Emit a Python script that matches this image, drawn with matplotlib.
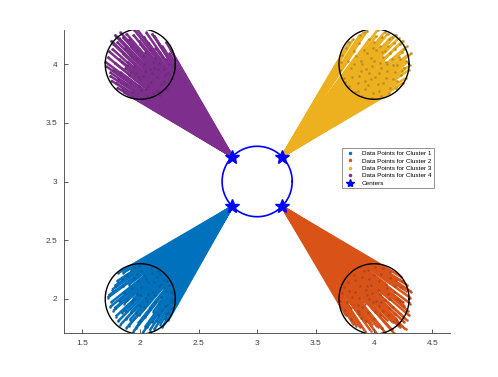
import matplotlib

matplotlib.use("Agg")
import numpy as np
from matplotlib import pyplot as plt

plt.rcParams["font.family"] = ["Liberation Sans", "DejaVu Sans"]

# cluster data points (x, y)
c1_x = [1.74, 1.76, 1.79, 1.80, 1.82, 1.83, 1.85, 1.86, 1.87, 1.88, 1.90, 1.91, 1.92, 1.93,
        1.94, 1.95, 1.96, 1.97, 1.98, 1.99, 2.00, 2.01, 2.02, 2.03, 2.04, 2.05, 2.06, 2.07,
        2.08, 2.09, 2.10, 2.11, 2.12, 2.13, 2.14, 2.15, 2.16, 2.17, 2.18, 2.19, 2.20, 2.21,
        2.22, 2.23, 2.24, 2.25, 2.26, 2.27, 2.28, 1.72, 1.77, 1.81, 1.89, 2.00, 2.15,
        1.73, 1.75, 1.78, 1.78, 1.81, 1.84, 1.84, 1.86, 1.89, 1.90, 1.92, 1.93, 1.95, 1.96,
        1.98, 1.99, 2.01, 2.03, 2.04, 2.05, 2.07, 2.08, 2.10, 2.11, 2.12, 2.14, 2.16, 2.17,
        2.19, 2.20, 2.22, 2.23, 2.24, 2.26, 2.27, 2.29, 1.94, 2.06, 2.00, 1.97, 1.85, 2.13,
        2.18, 1.88, 2.21]
c1_y = [1.93, 2.08, 1.85, 2.15, 1.98, 1.78, 2.22, 2.05, 1.90, 1.75, 2.12, 1.82, 2.25, 1.97,
        1.72, 2.18, 1.88, 2.04, 1.79, 2.28, 1.94, 2.10, 1.71, 2.20, 1.85, 2.01, 1.76, 2.14,
        1.92, 2.26, 1.80, 2.06, 1.74, 1.97, 2.19, 1.86, 2.11, 1.78, 2.02, 1.91, 2.16, 1.83,
        2.07, 1.95, 1.88, 2.12, 2.00, 1.92, 2.05, 2.01, 1.90, 2.22, 1.99, 2.03, 2.24,
        2.03, 1.97, 1.92, 2.11, 1.81, 1.88, 2.17, 1.96, 2.20, 1.77, 1.89, 2.09, 2.27, 1.75,
        2.15, 1.86, 2.24, 1.93, 1.76, 2.17, 2.04, 1.73, 2.22, 1.89, 2.14, 1.81, 1.96, 2.21,
        1.76, 2.09, 1.87, 2.15, 1.82, 2.06, 1.97, 1.99, 2.00, 1.98, 1.81, 2.21, 2.11, 2.03,
        2.13, 1.83, 1.94]

c2_x = [3.73, 3.75, 3.78, 3.80, 3.81, 3.83, 3.85, 3.86, 3.88, 3.89, 3.91, 3.92, 3.94, 3.95,
        3.96, 3.98, 3.99, 4.01, 4.02, 4.03, 4.05, 4.06, 4.07, 4.09, 4.10, 4.11, 4.13, 4.14,
        4.15, 4.17, 4.18, 4.19, 4.21, 4.22, 4.23, 4.25, 4.26, 4.27, 4.29, 4.31, 3.84, 3.90,
        3.97, 4.04, 4.12, 4.20, 4.16, 4.08, 4.24, 4.28, 3.77, 3.87, 3.93, 4.00, 4.14,
        3.71, 3.74, 3.76, 3.79, 3.80, 3.82, 3.84, 3.87, 3.88, 3.90, 3.92, 3.93, 3.95, 3.97,
        3.98, 4.00, 4.01, 4.03, 4.04, 4.06, 4.08, 4.09, 4.11, 4.12, 4.14, 4.16, 4.17, 4.18,
        4.20, 4.22, 4.23, 4.25, 4.26, 4.28, 4.30, 4.31, 4.27, 4.19, 3.96, 4.05, 4.13, 3.86,
        3.94, 4.02, 4.32]
c2_y = [2.05, 1.91, 2.14, 1.83, 2.02, 2.20, 1.77, 1.95, 2.11, 1.84, 2.24, 1.73, 2.03, 1.88,
        2.17, 1.79, 1.97, 2.27, 1.71, 2.08, 1.86, 2.21, 1.75, 1.99, 2.13, 1.82, 1.92, 2.23,
        1.74, 2.06, 1.87, 2.16, 1.78, 1.98, 2.10, 1.85, 1.94, 2.07, 1.90, 2.01, 2.06, 1.93,
        2.12, 1.94, 2.04, 1.81, 1.80, 1.90, 2.15, 1.82, 1.97, 1.87, 2.08, 1.83, 2.00,
        1.98, 2.10, 1.86, 2.07, 1.92, 1.79, 2.16, 2.01, 1.76, 2.19, 1.96, 1.81, 2.25, 1.73,
        2.05, 2.20, 1.89, 1.76, 2.15, 1.97, 2.26, 1.72, 2.09, 1.86, 2.18, 1.93, 1.71, 2.11,
        2.00, 1.76, 2.19, 1.97, 1.80, 2.12, 1.86, 1.96, 1.74, 1.83, 2.00, 2.04, 2.00, 1.90,
        2.11, 1.98, 2.06]

c3_x = [3.72, 3.74, 3.76, 3.79, 3.80, 3.82, 3.84, 3.85, 3.87, 3.88, 3.90, 3.91, 3.93, 3.94,
        3.95, 3.97, 3.98, 4.00, 4.01, 4.03, 4.04, 4.05, 4.07, 4.08, 4.09, 4.11, 4.12, 4.13,
        4.15, 4.16, 4.17, 4.19, 4.20, 4.21, 4.23, 4.24, 4.25, 4.27, 4.28, 4.30, 4.29, 3.83,
        3.89, 3.96, 4.02, 4.06, 4.14, 4.18, 3.86, 3.99, 4.10, 4.22, 3.92, 4.26, 4.13,
        3.71, 3.73, 3.75, 3.78, 3.79, 3.81, 3.83, 3.86, 3.87, 3.89, 3.91, 3.92, 3.94, 3.96,
        3.97, 3.99, 4.00, 4.02, 4.03, 4.05, 4.06, 4.08, 4.09, 4.10, 4.12, 4.14, 4.15, 4.16,
        4.18, 4.20, 4.21, 4.22, 4.24, 4.26, 4.27, 4.29, 4.31, 4.25, 4.19, 4.32, 3.90, 4.04,
        4.11, 3.98, 4.07]
c3_y = [4.02, 3.88, 4.14, 3.81, 3.97, 4.21, 3.76, 4.07, 3.90, 4.25, 3.73, 4.12, 3.96, 4.28,
        3.82, 4.05, 3.71, 4.19, 3.89, 4.29, 3.77, 4.01, 4.23, 3.84, 4.11, 3.94, 4.26, 3.75,
        4.04, 3.87, 4.18, 3.80, 3.99, 4.22, 3.91, 4.10, 3.84, 4.03, 4.15, 3.95, 4.08, 4.00,
        4.03, 3.92, 4.12, 3.97, 4.09, 3.93, 3.84, 4.14, 4.02, 4.04, 3.86, 3.97, 4.21,
        3.95, 4.08, 3.85, 4.03, 4.19, 3.89, 4.11, 3.77, 4.18, 3.94, 4.27, 3.79, 4.09, 4.21,
        3.87, 3.75, 4.03, 4.24, 3.83, 4.15, 3.73, 4.06, 4.27, 3.88, 4.15, 3.80, 4.23, 3.99,
        4.13, 3.86, 4.06, 4.17, 3.94, 4.13, 3.88, 4.02, 3.99, 4.20, 4.25, 4.09, 4.00, 3.92,
        4.00, 3.98, 4.10]

c4_x = [1.71, 1.73, 1.75, 1.77, 1.78, 1.80, 1.82, 1.83, 1.85, 1.86, 1.88, 1.89, 1.91, 1.92,
        1.94, 1.95, 1.96, 1.98, 1.99, 2.01, 2.02, 2.04, 2.05, 2.06, 2.08, 2.09, 2.11, 2.12,
        2.14, 2.15, 2.16, 2.18, 2.19, 2.21, 2.22, 2.23, 2.25, 2.26, 2.27, 2.29, 1.74, 1.79,
        1.84, 1.90, 1.97, 2.03, 2.10, 2.17, 2.07, 1.87, 2.13, 1.93, 2.00, 2.20, 1.81,
        1.72, 1.74, 1.76, 1.77, 1.79, 1.80, 1.82, 1.84, 1.85, 1.87, 1.88, 1.90, 1.91, 1.93,
        1.94, 1.96, 1.97, 1.99, 2.00, 2.02, 2.03, 2.05, 2.07, 2.08, 2.10, 2.11, 2.13, 2.14,
        2.16, 2.17, 2.19, 2.20, 2.22, 2.24, 2.25, 2.27, 1.70, 1.75, 1.83, 1.78, 1.89, 1.95,
        2.04, 2.12, 1.92]
c4_y = [3.98, 4.11, 3.86, 4.17, 4.01, 3.80, 4.22, 3.93, 4.09, 3.76, 4.26, 3.99, 3.84, 4.15,
        3.72, 4.29, 4.04, 3.89, 4.20, 3.78, 4.07, 3.94, 4.27, 3.73, 4.13, 3.85, 4.02, 4.24,
        3.77, 3.96, 4.17, 3.83, 4.06, 3.91, 4.19, 3.79, 4.00, 4.12, 3.88, 3.97, 3.93, 4.24,
        4.02, 3.91, 4.12, 4.00, 3.92, 4.09, 3.81, 4.14, 4.05, 4.06, 3.87, 3.96, 3.87,
        4.06, 3.90, 4.13, 3.95, 3.84, 4.19, 4.04, 3.79, 4.23, 3.97, 3.83, 4.21, 4.08, 3.76,
        4.25, 3.92, 4.30, 3.81, 4.17, 3.90, 4.23, 3.79, 4.18, 3.96, 4.26, 3.75, 4.14, 3.89,
        4.01, 3.74, 4.15, 3.86, 4.04, 3.92, 4.09, 3.99, 4.02, 4.20, 4.27, 4.25, 4.02, 3.98,
        4.10, 3.97, 3.93]

cluster_x = [c1_x, c2_x, c3_x, c4_x]
cluster_y = [c1_y, c2_y, c3_y, c4_y]
cluster_cx = [2.0, 4.0, 4.0, 2.0]
cluster_cy = [2.0, 2.0, 4.0, 4.0]
cluster_r = 0.3

# centers found
centers_x = [2.788, 3.212, 3.212, 2.788]
centers_y = [2.788, 2.788, 3.212, 3.212]
ring_x, ring_y, ring_r = 3.0, 3.0, 0.3

colors = ["#0072BD", "#D95319", "#EDB120", "#7E2F8E"]
labels = ["Data Points for Cluster %d" % (i + 1) for i in range(4)]

fig = plt.figure(figsize=(4.98, 3.77), dpi=100)
ax = fig.add_axes([64.3 / 498, 44 / 377, 385.7 / 498, 303 / 377])

t = np.linspace(0, 2 * np.pi, 200)
handles = []
for k in range(4):
    xs, ys = cluster_x[k], cluster_y[k]
    for x, y in zip(xs, ys):
        ax.plot([x, centers_x[k]], [y, centers_y[k]], color=colors[k], lw=1.8,
                solid_capstyle="butt", zorder=1)
    dark = tuple(0.7 * c + 0.05 for c in matplotlib.colors.to_rgb(colors[k]))
    ax.plot(xs, ys, ".", color=dark, ms=2.0, alpha=0.7, zorder=2)
    h, = ax.plot([], [], ".", color=colors[k], ms=3, label=labels[k])
    handles.append(h)
    ax.plot(cluster_cx[k] + cluster_r * np.cos(t), cluster_cy[k] + cluster_r * np.sin(t),
            color="black", lw=1.0, zorder=3)

ax.plot(ring_x + ring_r * np.cos(t), ring_y + ring_r * np.sin(t), color="blue", lw=1.2, zorder=3)
ax.plot(centers_x, centers_y, "*", color="blue", ms=10, zorder=4)
h, = ax.plot([], [], "*", color="blue", ms=6, label="Centers")
handles.append(h)

ax.set_xlim(1.35, 4.65)
ax.set_ylim(1.71, 4.29)
ax.set_xticks([1.5, 2, 2.5, 3, 3.5, 4, 4.5])
ax.set_xticklabels(["1.5", "2", "2.5", "3", "3.5", "4", "4.5"])
ax.set_yticks([2, 2.5, 3, 3.5, 4])
ax.set_yticklabels(["2", "2.5", "3", "3.5", "4"])
for s in ["top", "right"]:
    ax.spines[s].set_visible(False)
for s in ["left", "bottom"]:
    ax.spines[s].set_color("#404040")
    ax.spines[s].set_linewidth(0.6)
ax.tick_params(direction="in", length=3, width=0.6, labelsize=6, colors="#404040", pad=5)

leg = fig.legend(handles=handles, loc="upper left", bbox_to_anchor=(339 / 498, 1 - 145 / 377),
                 fontsize=4.6, frameon=True, fancybox=False, edgecolor="#404040",
                 handlelength=1.5, borderpad=0.4, labelspacing=0.3, handletextpad=1.2)
leg.get_frame().set_linewidth(0.5)

plt.savefig("out.png", dpi=100)
plt.close()
